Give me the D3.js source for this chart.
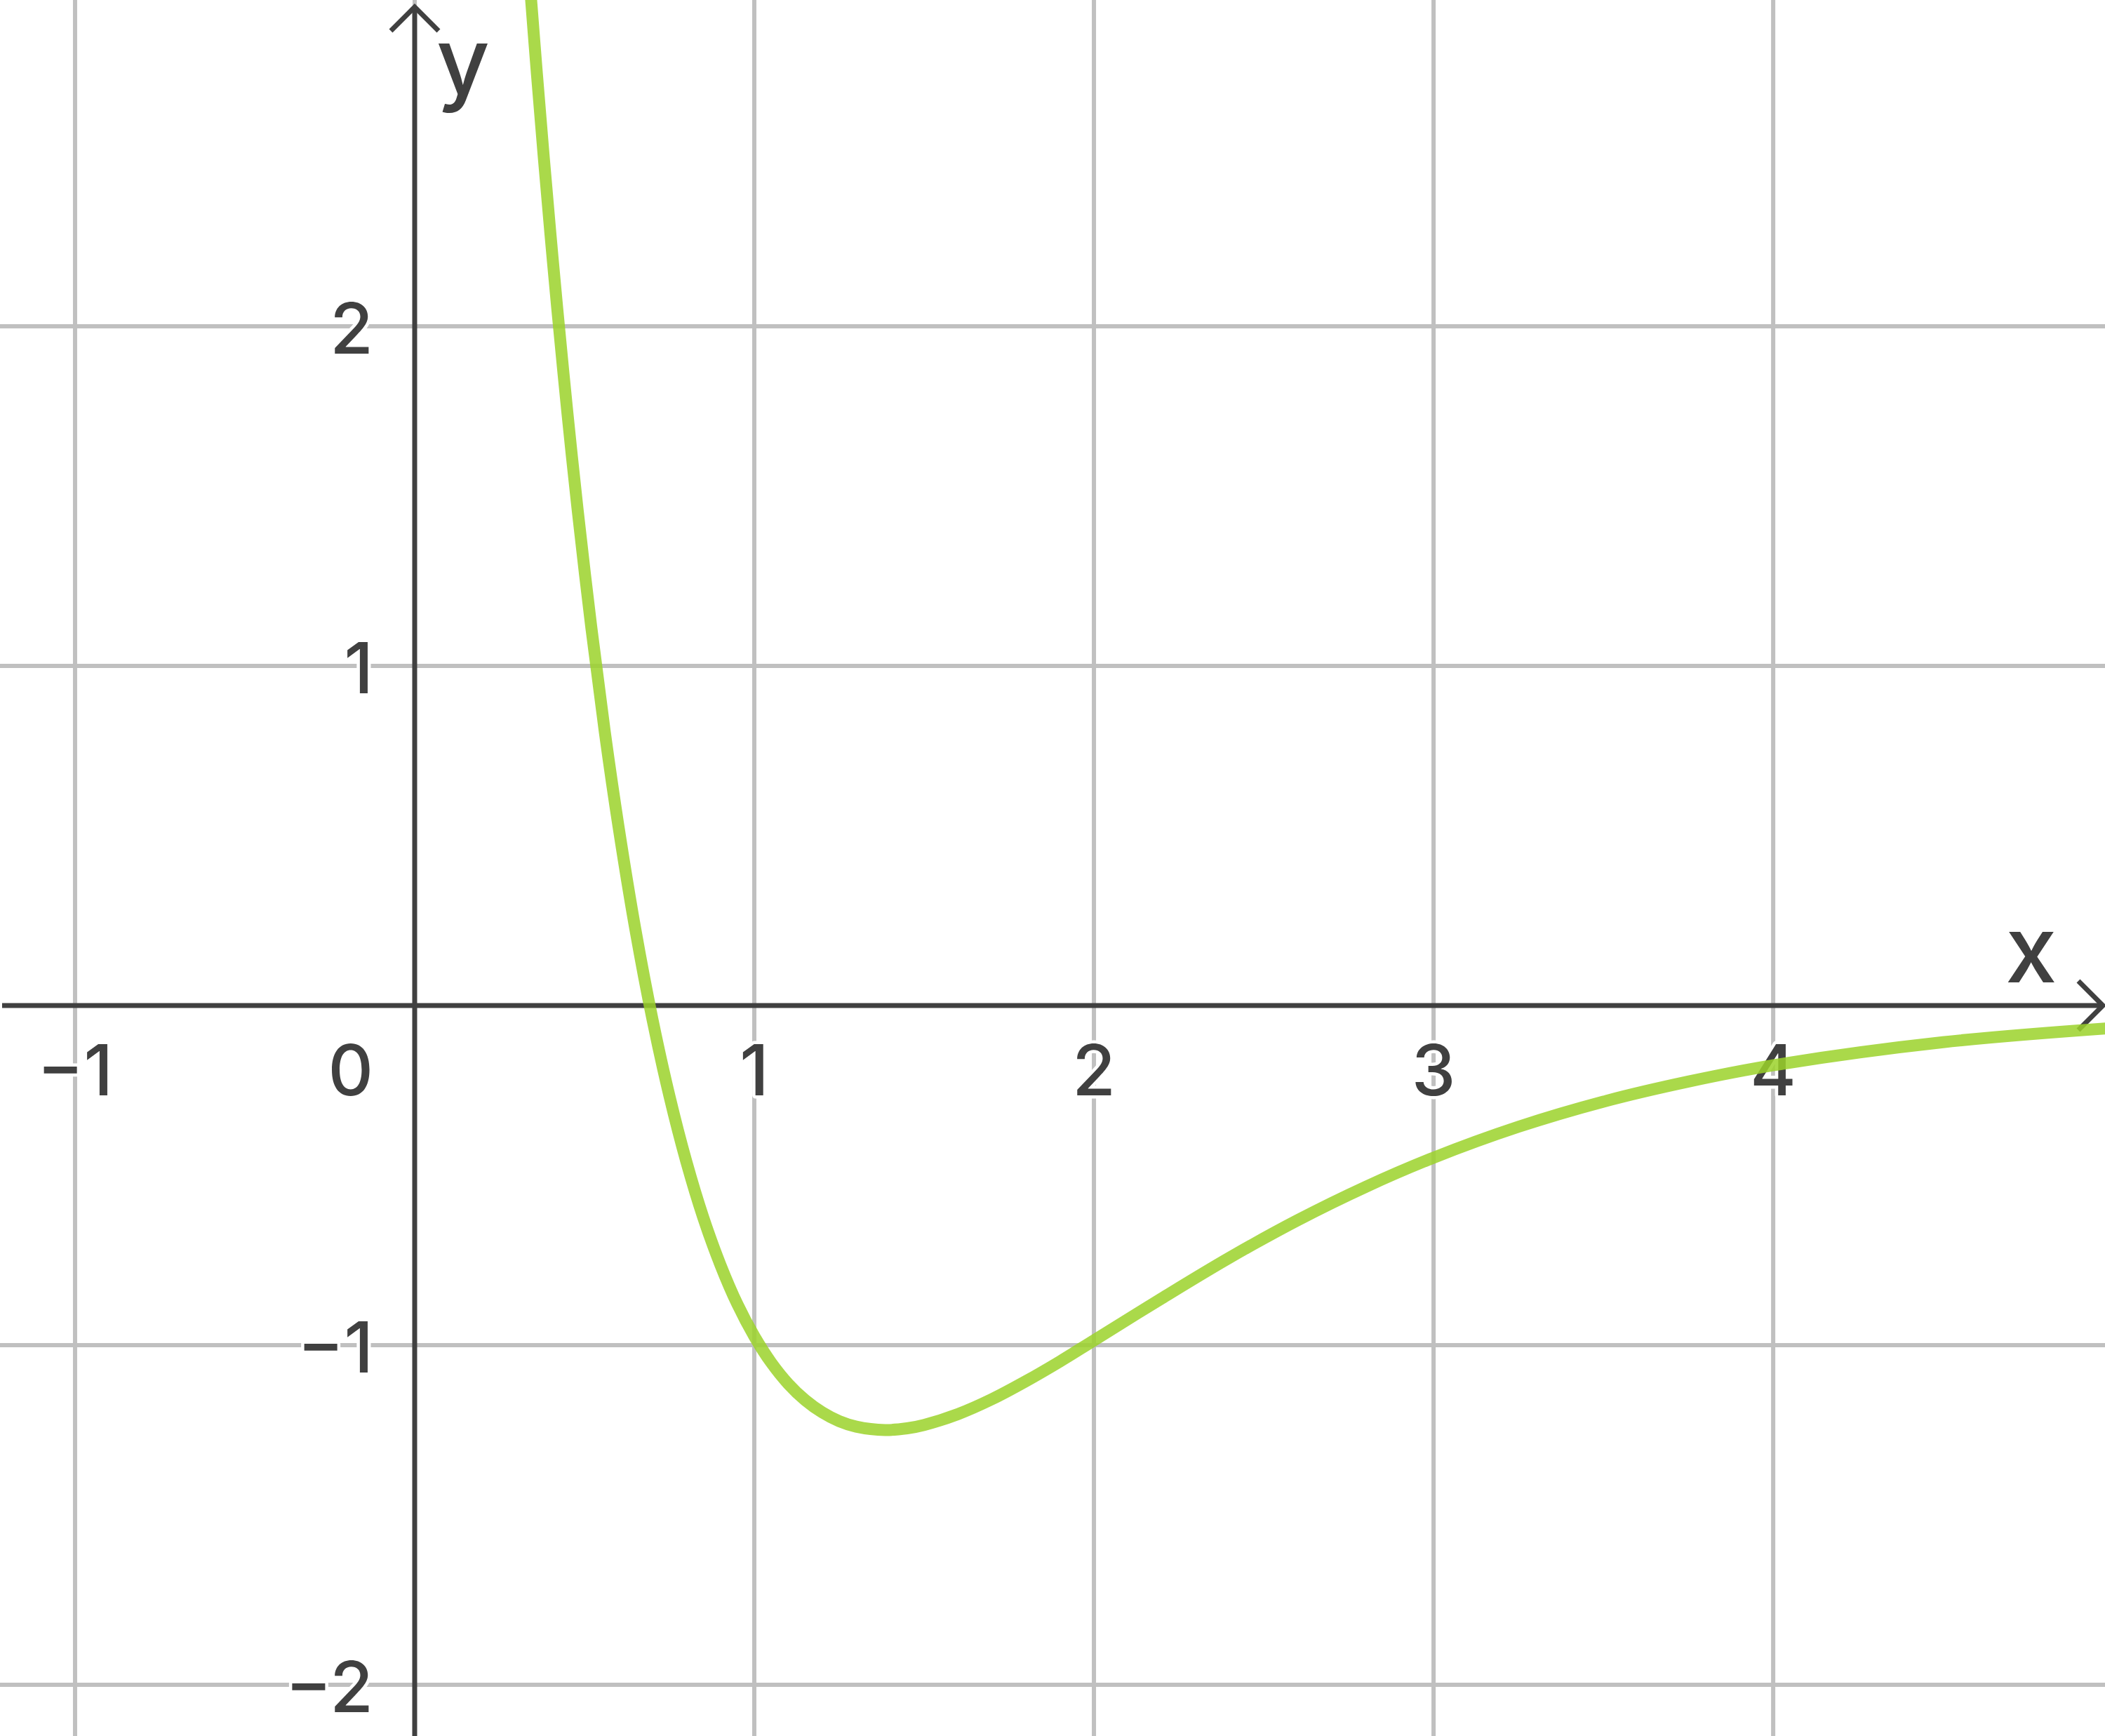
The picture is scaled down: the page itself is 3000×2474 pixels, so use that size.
<!DOCTYPE html>
<html lang="en">

<head>
    <meta charset="UTF-8">
    <title>Curve</title>
    <script src="https://d3js.org/d3.v7.min.js"></script>
    <style>
        body {
            margin: 0;
            padding: 0;
            background: white;
        }

        text {
            font-family: Inter, "Liberation Sans", Arial, sans-serif;
            font-weight: 500;
            fill: #404040;
        }
    </style>
</head>

<body>
    <div id='main'></div>

    <script>
        // values
        var xTicks = [-1, 0, 1, 2, 3, 4];
        var yTicks = [-2, -1, 1, 2];

        var curveX = [0.33, 0.34, 0.36, 0.38, 0.40, 0.42, 0.45, 0.48, 0.52, 0.56, 0.60, 0.65, 0.70, 0.75, 0.80,
            0.85, 0.90, 0.95, 1.00, 1.05, 1.10, 1.15, 1.20, 1.25, 1.30, 1.385, 1.45, 1.50, 1.60, 1.70, 1.80,
            1.90, 2.00, 2.20, 2.40, 2.60, 2.80, 3.00, 3.25, 3.50, 3.75, 4.00, 4.50, 5.00];
        var curveY = [3.130, 2.998, 2.742, 2.499, 2.269, 2.050, 1.742, 1.458, 1.114, 0.804, 0.528, 0.223, -0.040, -0.266, -0.460,
            -0.625, -0.763, -0.879, -0.974, -1.052, -1.114, -1.162, -1.198, -1.224, -1.240, -1.250, -1.245, -1.235, -1.203, -1.159, -1.106,
            -1.048, -0.986, -0.862, -0.742, -0.632, -0.534, -0.448, -0.357, -0.283, -0.224, -0.176, -0.108, -0.066];

        var width = 3000;
        var height = 2474;

        var x = d3.scaleLinear()
            .domain([-1.221, 4.977])
            .range([0, width]);

        var y = d3.scaleLinear()
            .domain([-2.151, 2.961])
            .range([height, 0]);

        var dark = '#404040';

        var svg = d3.select('#main')
            .append('svg')
            .attr('width', width)
            .attr('height', height);

        svg.append('defs').append('clipPath')
            .attr('id', 'clip')
            .append('rect')
            .attr('width', width)
            .attr('height', height);

        // grid
        var grid = svg.append('g')
            .attr('stroke', '#c0c0c0')
            .attr('stroke-width', 6);

        grid.selectAll('.vx')
            .data(xTicks)
            .enter()
            .append('line')
            .attr('x1', d => x(d))
            .attr('x2', d => x(d))
            .attr('y1', 0)
            .attr('y2', height);

        grid.selectAll('.hy')
            .data(yTicks)
            .enter()
            .append('line')
            .attr('x1', 0)
            .attr('x2', width)
            .attr('y1', d => y(d))
            .attr('y2', d => y(d));

        function fmt(d) {
            return d < 0 ? '\u2212' + Math.abs(d) : String(d);
        }

        // tick labels with white halo
        var labels = svg.append('g')
            .attr('font-size', 100)
            .attr('stroke', 'white')
            .attr('stroke-width', 9)
            .attr('stroke-linejoin', 'round')
            .attr('paint-order', 'stroke');

        labels.selectAll('.xl')
            .data(xTicks)
            .enter()
            .append('text')
            .attr('x', d => d == 0 ? x(0) - 59 : x(d))
            .attr('y', y(0) + 128)
            .attr('text-anchor', d => d == 0 ? 'end' : 'middle')
            .text(fmt);

        labels.selectAll('.yl')
            .data(yTicks)
            .enter()
            .append('text')
            .attr('x', x(0) - 59)
            .attr('y', d => y(d) + 39)
            .attr('text-anchor', 'end')
            .text(fmt);

        // axes
        var axes = svg.append('g')
            .attr('stroke', dark)
            .attr('stroke-width', 7)
            .attr('fill', 'none');

        axes.append('line')
            .attr('x1', 3).attr('x2', width - 3)
            .attr('y1', y(0)).attr('y2', y(0));

        axes.append('line')
            .attr('x1', x(0)).attr('x2', x(0))
            .attr('y1', 10).attr('y2', height);

        axes.append('path')
            .attr('d', 'M' + (width - 38) + ',' + (y(0) - 35) + 'L' + (width - 3) + ',' + y(0) + 'L' + (width - 38) + ',' + (y(0) + 35));

        axes.append('path')
            .attr('d', 'M' + (x(0) - 34) + ',44L' + x(0) + ',10L' + (x(0) + 34) + ',44');

        svg.append('text')
            .attr('x', x(0) + 31)
            .attr('y', 134)
            .attr('font-size', 132)
            .text('y');

        svg.append('text')
            .attr('x', width - 142)
            .attr('y', y(0) - 33)
            .attr('font-size', 132)
            .text('x');

        // curve
        var pts = curveX.map((d, i) => [d, curveY[i]]);

        var line = d3.line()
            .x(d => x(d[0]))
            .y(d => y(d[1]))
            .curve(d3.curveCatmullRom);

        svg.append('path')
            .datum(pts)
            .attr('clip-path', 'url(#clip)')
            .attr('d', line)
            .attr('fill', 'none')
            .attr('stroke', '#9bd22a')
            .attr('stroke-opacity', 0.85)
            .attr('stroke-width', 17)
            .attr('stroke-linejoin', 'round');
    </script>

</body>

</html>
